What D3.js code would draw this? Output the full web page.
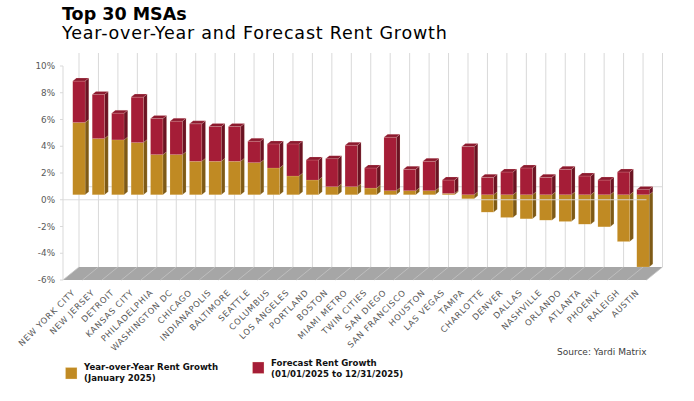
<!DOCTYPE html>
<html lang="en">
<head>
<meta charset="UTF-8">
<title>Top 30 MSAs - Rent Growth</title>
<script src="https://d3js.org/d3.v7.min.js"></script>
<style>
    body { margin: 0; background: #fff; }
    svg { display: block; }
    .title { font-family: "DejaVu Sans", sans-serif; fill: #000; }
    .tick-label { font-family: "DejaVu Sans", sans-serif; font-size: 8.8px; fill: #595959; }
    .cat-label { font-family: "DejaVu Sans", sans-serif; font-size: 8.4px; fill: #595959; letter-spacing: 0.75px; }
    .legend { font-family: "DejaVu Sans", sans-serif; font-size: 8.6px; font-weight: bold; fill: #111; }
    .source { font-family: "DejaVu Sans", sans-serif; font-size: 9px; fill: #404040; }
</style>
</head>
<body>
<svg id="chart" width="694" height="401"></svg>
<script>
    // Chart data
    const cities = ["NEW YORK CITY", "NEW JERSEY", "DETROIT", "KANSAS CITY", "PHILADELPHIA",
        "WASHINGTON DC", "CHICAGO", "INDIANAPOLIS", "BALTIMORE", "SEATTLE",
        "COLUMBUS", "LOS ANGELES", "PORTLAND", "BOSTON", "MIAMI METRO",
        "TWIN CITIES", "SAN DIEGO", "SAN FRANCISCO", "HOUSTON", "LAS VEGAS",
        "TAMPA", "CHARLOTTE", "DENVER", "DALLAS", "NASHVILLE",
        "ORLANDO", "ATLANTA", "PHOENIX", "RALEIGH", "AUSTIN"];
    const yoyGrowth = [5.4, 4.2, 4.1, 3.9, 3.0, 3.0, 2.5, 2.5, 2.5, 2.4,
        2.0, 1.4, 1.1, 0.6, 0.6, 0.5, 0.3, 0.3, 0.3, 0.1,
        -0.3, -1.3, -1.7, -1.8, -1.9, -2.0, -2.2, -2.4, -3.5, -5.4];
    const forecastGrowth = [3.1, 3.3, 2.0, 3.4, 2.7, 2.5, 2.8, 2.6, 2.6, 1.6,
        1.8, 2.4, 1.5, 2.1, 3.1, 1.5, 4.0, 1.6, 2.2, 1.0,
        3.6, 1.3, 1.7, 2.0, 1.3, 1.9, 1.4, 1.1, 1.7, 0.4];
    const yTicks = [-6, -4, -2, 0, 2, 4, 6, 8, 10];

    const svg = d3.select("#chart");

    // front plane of the 3D box
    const plotL = 63, plotR = 646.5, plotT = 66, plotB = 280;
    const wallDX = 16, wallDY = -13;      // depth offset of the back wall
    const barDX = 6.2, barDY = -5;        // bar front face depth offset
    const sideDX = 3.7, sideDY = -3;      // bar thickness in depth

    const x = d3.scaleBand().domain(cities).range([plotL, plotR]).paddingInner(0.366).paddingOuter(0.183);
    const xBound = d3.scaleLinear().domain([0, cities.length]).range([plotL, plotR]);
    const y = d3.scaleLinear().domain([-6, 10]).range([plotB, plotT]);

    const colors = {
        yoy: { front: "#C08A23", side: "#7E5A16", top: "#D39B34" },
        fc: { front: "#A51D37", side: "#6B1323", top: "#8C1A2E" }
    };

    // floor
    svg.append("polygon")
        .attr("points", [[plotL, plotB], [plotR, plotB], [plotR + wallDX, plotB + wallDY], [plotL + wallDX, plotB + wallDY]].join(" "))
        .attr("fill", "#A6A6A6");

    // back wall vertical gridlines + floor divisions
    const bounds = d3.range(cities.length + 1);
    svg.append("g").selectAll("line")
        .data(bounds)
        .join("line")
        .attr("x1", d => xBound(d) + wallDX)
        .attr("x2", d => xBound(d) + wallDX)
        .attr("y1", y(10) + wallDY)
        .attr("y2", plotB + wallDY)
        .attr("stroke", "#D9D9D9")
        .attr("stroke-width", 1);

    svg.append("g").selectAll("line")
        .data(bounds)
        .join("line")
        .attr("x1", d => xBound(d))
        .attr("x2", d => xBound(d) + wallDX)
        .attr("y1", plotB)
        .attr("y2", plotB + wallDY)
        .attr("stroke", "#C4C4C4")
        .attr("stroke-width", 0.8);

    // back zero line
    svg.append("line")
        .attr("x1", plotL + wallDX).attr("x2", plotR + wallDX)
        .attr("y1", y(0) + wallDY).attr("y2", y(0) + wallDY)
        .attr("stroke", "#D9D9D9");

    // front y axis
    svg.append("line")
        .attr("x1", plotL).attr("x2", plotL)
        .attr("y1", plotT).attr("y2", plotB)
        .attr("stroke", "#D9D9D9");

    svg.append("g").selectAll("line")
        .data(yTicks)
        .join("line")
        .attr("x1", plotL - 3).attr("x2", plotL)
        .attr("y1", d => y(d)).attr("y2", d => y(d))
        .attr("stroke", "#D9D9D9");

    svg.append("g").selectAll("text")
        .data(yTicks)
        .join("text")
        .attr("class", "tick-label")
        .attr("x", 55)
        .attr("y", d => y(d) + 3)
        .attr("text-anchor", "end")
        .text(d => d + "%");

    // build stacked segments
    const segments = [];
    cities.forEach((c, i) => {
        const yoy = yoyGrowth[i], fc = forecastGrowth[i];
        if (yoy >= 0) {
            segments.push({ city: c, s: "yoy", v0: 0, v1: yoy, cap: fc <= 0 });
            segments.push({ city: c, s: "fc", v0: yoy, v1: yoy + fc, cap: true });
        } else {
            segments.push({ city: c, s: "yoy", v0: yoy, v1: 0, cap: false });
            segments.push({ city: c, s: "fc", v0: 0, v1: fc, cap: true });
        }
    });

    const bw = x.bandwidth();
    const bars = svg.append("g");
    segments.forEach(d => {
        const x0 = x(d.city) + barDX;
        const x1 = x0 + bw;
        const yt = y(Math.max(d.v0, d.v1)) + barDY;
        const yb = y(Math.min(d.v0, d.v1)) + barDY;
        const col = colors[d.s];
        const g = bars.append("g");
        // side face
        g.append("polygon")
            .attr("points", [[x1, yt], [x1 + sideDX, yt + sideDY], [x1 + sideDX, yb + sideDY], [x1, yb]].join(" "))
            .attr("fill", col.side)
            .attr("stroke", "rgba(255,235,200,0.35)").attr("stroke-width", 0.4);
        // front face
        g.append("rect")
            .attr("x", x0).attr("y", yt)
            .attr("width", bw).attr("height", Math.max(0, yb - yt))
            .attr("fill", col.front)
            .attr("stroke", "rgba(255,235,200,0.35)").attr("stroke-width", 0.4);
        // top face
        if (d.cap) {
            g.append("polygon")
                .attr("points", [[x0, yt], [x0 + sideDX, yt + sideDY], [x1 + sideDX, yt + sideDY], [x1, yt]].join(" "))
                .attr("fill", col.top)
                .attr("stroke", "rgba(255,220,220,0.45)").attr("stroke-width", 0.4);
        }
    });

    // front zero line (over bars)
    svg.append("line")
        .attr("x1", plotL).attr("x2", plotR)
        .attr("y1", y(0)).attr("y2", y(0))
        .attr("stroke", "#D9D9D9")
        .attr("stroke-opacity", 0.9);

    // category labels
    svg.append("g").selectAll("text")
        .data(cities)
        .join("text")
        .attr("class", "cat-label")
        .attr("text-anchor", "end")
        .attr("transform", d => `translate(${x(d) + bw / 2 + 3},${plotB + 13}) rotate(-45)`)
        .text(d => d);

    // titles
    svg.append("text").attr("class", "title")
        .attr("x", 62).attr("y", 20)
        .attr("font-size", 17.5).attr("font-weight", "bold")
        .text("Top 30 MSAs");
    svg.append("text").attr("class", "title")
        .attr("x", 62).attr("y", 38.5)
        .attr("font-size", 17.5)
        .attr("letter-spacing", "0.8px")
        .text("Year-over-Year and Forecast Rent Growth");

    // legend
    const legendItems = [
        { key: "yoy", x: 65.5, y: 367.5, lines: ["Year-over-Year Rent Growth", "(January 2025)"], tx: 84, ty: 370 },
        { key: "fc", x: 252.5, y: 362, lines: ["Forecast Rent Growth", "(01/01/2025 to 12/31/2025)"], tx: 271, ty: 366 }
    ];
    legendItems.forEach(item => {
        svg.append("rect")
            .attr("x", item.x).attr("y", item.y)
            .attr("width", 11.5).attr("height", 11.5)
            .attr("fill", colors[item.key].front)
            .attr("stroke", "rgba(255,235,200,0.6)").attr("stroke-width", 0.5);
        const t = svg.append("text").attr("class", "legend")
            .attr("x", item.tx).attr("y", item.ty);
        item.lines.forEach((l, i) => {
            t.append("tspan").attr("x", item.tx).attr("dy", i === 0 ? 0 : 10.5).text(l);
        });
    });

    svg.append("text").attr("class", "source")
        .attr("x", 646.5).attr("y", 355)
        .attr("text-anchor", "end")
        .text("Source: Yardi Matrix");
</script>
</body>
</html>
